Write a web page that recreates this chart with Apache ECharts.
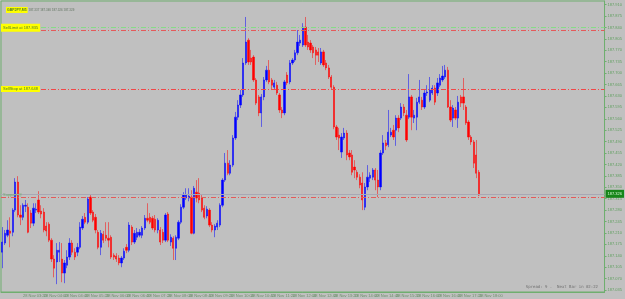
<!DOCTYPE html>
<html>
<head>
<meta charset="utf-8">
<title>GBPJPY,M5</title>
<style>
    html, body { margin: 0; padding: 0; background: #c0c0c0; }
    #chart { width: 625px; height: 299px; }
</style>
<script src="https://cdn.jsdelivr.net/npm/echarts@6/dist/echarts.min.js"></script>
</head>
<body>
<div id="chart"></div>
<script>
// 5 minute bars, oldest first
const opens = [
    187.151, 187.179, 187.203, 187.216, 187.212, 187.280, 187.366, 187.265, 187.258, 187.292,
    187.289, 187.271, 187.240, 187.280, 187.311, 187.277, 187.274, 187.231, 187.237, 187.188,
    187.130, 187.121, 187.151, 187.130, 187.087, 187.111, 187.136, 187.179, 187.151, 187.151,
    187.166, 187.225, 187.258, 187.243, 187.320, 187.274, 187.258, 187.212, 187.166, 187.206,
    187.203, 187.194, 187.197, 187.142, 187.139, 187.133, 187.118, 187.133, 187.166, 187.157,
    187.228, 187.182, 187.197, 187.203, 187.203, 187.225, 187.255, 187.258, 187.255, 187.252,
    187.219, 187.219, 187.212, 187.188, 187.268, 187.182, 187.194, 187.163, 187.194, 187.243,
    187.289, 187.317, 187.317, 187.320, 187.209, 187.335, 187.332, 187.317, 187.286, 187.262,
    187.280, 187.234, 187.219, 187.228, 187.234, 187.295, 187.372, 187.424, 187.393, 187.418,
    187.501, 187.565, 187.602, 187.633, 187.731, 187.801, 187.746, 187.749, 187.679, 187.627,
    187.578, 187.627, 187.679, 187.709, 187.679, 187.657, 187.663, 187.633, 187.587, 187.578,
    187.694, 187.673, 187.731, 187.740, 187.762, 187.792, 187.786, 187.841, 187.795, 187.792,
    187.780, 187.771, 187.765, 187.731, 187.765, 187.731, 187.716, 187.688, 187.657, 187.535,
    187.510, 187.458, 187.501, 187.516, 187.455, 187.449, 187.412, 187.396, 187.381, 187.363,
    187.289, 187.351, 187.378, 187.381, 187.403, 187.372, 187.351, 187.455, 187.486, 187.480,
    187.510, 187.525, 187.525, 187.562, 187.562, 187.596, 187.571, 187.565, 187.627, 187.562,
    187.565, 187.611, 187.617, 187.596, 187.639, 187.617, 187.639, 187.654, 187.639, 187.663,
    187.679, 187.688, 187.709, 187.596, 187.562, 187.587, 187.562, 187.627, 187.627, 187.596,
    187.550, 187.504, 187.489, 187.449, 187.396
];
const closes = [
    187.182, 187.209, 187.219, 187.209, 187.280, 187.366, 187.265, 187.258, 187.295, 187.295,
    187.212, 187.240, 187.286, 187.283, 187.274, 187.268, 187.219, 187.216, 187.188, 187.130,
    187.102, 187.157, 187.157, 187.087, 187.118, 187.136, 187.179, 187.151, 187.136, 187.166,
    187.228, 187.252, 187.243, 187.314, 187.271, 187.249, 187.219, 187.166, 187.209, 187.188,
    187.194, 187.188, 187.136, 187.136, 187.130, 187.118, 187.133, 187.154, 187.157, 187.234,
    187.182, 187.209, 187.212, 187.212, 187.225, 187.255, 187.249, 187.243, 187.225, 187.219,
    187.249, 187.182, 187.188, 187.265, 187.188, 187.197, 187.163, 187.197, 187.243, 187.289,
    187.326, 187.326, 187.323, 187.209, 187.347, 187.317, 187.311, 187.280, 187.258, 187.283,
    187.234, 187.219, 187.231, 187.240, 187.295, 187.372, 187.424, 187.393, 187.418, 187.501,
    187.565, 187.602, 187.633, 187.731, 187.795, 187.734, 187.734, 187.679, 187.608, 187.578,
    187.627, 187.679, 187.709, 187.673, 187.663, 187.670, 187.639, 187.587, 187.578, 187.673,
    187.670, 187.731, 187.740, 187.762, 187.795, 187.801, 187.841, 187.786, 187.780, 187.771,
    187.762, 187.755, 187.755, 187.765, 187.725, 187.716, 187.688, 187.657, 187.535, 187.504,
    187.501, 187.504, 187.516, 187.449, 187.443, 187.396, 187.403, 187.381, 187.357, 187.311,
    187.351, 187.381, 187.387, 187.403, 187.372, 187.351, 187.455, 187.486, 187.477, 187.519,
    187.519, 187.504, 187.562, 187.532, 187.596, 187.578, 187.495, 187.627, 187.565, 187.571,
    187.611, 187.627, 187.596, 187.639, 187.642, 187.648, 187.654, 187.611, 187.670, 187.685,
    187.691, 187.709, 187.596, 187.556, 187.593, 187.562, 187.611, 187.608, 187.608, 187.547,
    187.504, 187.489, 187.424, 187.393, 187.326
];
const lows = [
    187.102, 187.173, 187.197, 187.166, 187.200, 187.274, 187.258, 187.234, 187.249, 187.274,
    187.209, 187.225, 187.231, 187.271, 187.268, 187.255, 187.212, 187.200, 187.182, 187.121,
    187.074, 187.053, 187.121, 187.059, 187.056, 187.102, 187.127, 187.142, 187.127, 187.139,
    187.160, 187.219, 187.237, 187.237, 187.265, 187.243, 187.209, 187.160, 187.142, 187.179,
    187.185, 187.166, 187.130, 187.127, 187.121, 187.111, 187.105, 187.127, 187.148, 187.151,
    187.173, 187.176, 187.188, 187.197, 187.194, 187.219, 187.243, 187.237, 187.219, 187.212,
    187.209, 187.173, 187.179, 187.182, 187.182, 187.170, 187.127, 187.127, 187.188, 187.237,
    187.283, 187.311, 187.307, 187.206, 187.206, 187.304, 187.301, 187.274, 187.252, 187.255,
    187.228, 187.212, 187.197, 187.219, 187.228, 187.289, 187.366, 187.387, 187.387, 187.412,
    187.495, 187.556, 187.593, 187.627, 187.725, 187.725, 187.725, 187.673, 187.602, 187.568,
    187.535, 187.617, 187.673, 187.666, 187.648, 187.648, 187.633, 187.578, 187.562, 187.571,
    187.663, 187.666, 187.725, 187.734, 187.755, 187.783, 187.780, 187.780, 187.771, 187.762,
    187.746, 187.725, 187.734, 187.725, 187.719, 187.709, 187.682, 187.651, 187.528, 187.495,
    187.464, 187.440, 187.495, 187.433, 187.433, 187.387, 187.378, 187.372, 187.347, 187.280,
    187.280, 187.341, 187.366, 187.372, 187.341, 187.320, 187.341, 187.449, 187.464, 187.473,
    187.504, 187.495, 187.477, 187.519, 187.556, 187.568, 187.489, 187.559, 187.525, 187.547,
    187.525, 187.605, 187.587, 187.590, 187.630, 187.611, 187.633, 187.602, 187.630, 187.657,
    187.673, 187.682, 187.593, 187.550, 187.535, 187.556, 187.532, 187.596, 187.587, 187.541,
    187.495, 187.480, 187.409, 187.378, 187.323
];
const highs = [
    187.228, 187.219, 187.249, 187.258, 187.286, 187.378, 187.384, 187.295, 187.301, 187.311,
    187.301, 187.280, 187.301, 187.301, 187.338, 187.295, 187.286, 187.243, 187.243, 187.194,
    187.142, 187.179, 187.182, 187.179, 187.127, 187.157, 187.194, 187.188, 187.163, 187.179,
    187.243, 187.262, 187.271, 187.320, 187.329, 187.280, 187.268, 187.219, 187.219, 187.216,
    187.243, 187.243, 187.203, 187.148, 187.148, 187.142, 187.139, 187.163, 187.176, 187.243,
    187.234, 187.219, 187.225, 187.222, 187.231, 187.265, 187.301, 187.271, 187.262, 187.265,
    187.255, 187.228, 187.222, 187.271, 187.274, 187.206, 187.200, 187.203, 187.249, 187.298,
    187.335, 187.347, 187.347, 187.341, 187.354, 187.372, 187.378, 187.326, 187.295, 187.292,
    187.286, 187.243, 187.237, 187.249, 187.301, 187.378, 187.455, 187.464, 187.433, 187.510,
    187.581, 187.617, 187.648, 187.746, 187.872, 187.807, 187.771, 187.755, 187.685, 187.633,
    187.636, 187.688, 187.722, 187.740, 187.685, 187.679, 187.673, 187.639, 187.596, 187.679,
    187.703, 187.740, 187.746, 187.771, 187.832, 187.817, 187.853, 187.872, 187.817, 187.801,
    187.786, 187.780, 187.777, 187.777, 187.771, 187.740, 187.725, 187.694, 187.663, 187.541,
    187.532, 187.516, 187.532, 187.525, 187.464, 187.464, 187.433, 187.403, 187.390, 187.396,
    187.363, 187.418, 187.396, 187.409, 187.409, 187.403, 187.464, 187.510, 187.495, 187.587,
    187.532, 187.541, 187.571, 187.571, 187.608, 187.605, 187.587, 187.697, 187.633, 187.587,
    187.624, 187.679, 187.627, 187.648, 187.663, 187.688, 187.663, 187.663, 187.685, 187.697,
    187.722, 187.725, 187.719, 187.617, 187.602, 187.596, 187.630, 187.633, 187.685, 187.602,
    187.556, 187.510, 187.495, 187.495, 187.403
];

// price scale on the right
const priceTicks = [
    187.035, 187.070, 187.105, 187.140, 187.175, 187.210, 187.245, 187.280, 187.315, 187.350,
    187.385, 187.420, 187.455, 187.490, 187.525, 187.560, 187.595, 187.630, 187.665, 187.700,
    187.735, 187.770, 187.805, 187.840, 187.875, 187.910
];
// one time label every 8 bars
const timeLabels = [
    '28 Nov 2023', '28 Nov 03:20', '28 Nov 04:00', '28 Nov 04:40', '28 Nov 05:20', '28 Nov 06:00',
    '28 Nov 06:40', '28 Nov 07:20', '28 Nov 08:00', '28 Nov 08:40', '28 Nov 09:20', '28 Nov 10:00',
    '28 Nov 10:40', '28 Nov 11:20', '28 Nov 12:00', '28 Nov 12:40', '28 Nov 13:20', '28 Nov 14:00',
    '28 Nov 14:40', '28 Nov 15:20', '28 Nov 16:00', '28 Nov 16:40', '28 Nov 17:20', '28 Nov 18:00'
];

// horizontal levels
const levelTopGreen = 187.838;
const levelTopRed = 187.832;
const levelMid = 187.648;
const levelLow = 187.317;
const bid = 187.326;

const slots = 233;   // bars that fit in the window, incl. the empty shift on the right
const categories = [];
for (let i = 0; i < slots; i++) categories.push(String(i));

const ohlc = opens.map((o, i) => [o, closes[i], lows[i], highs[i]]);

const green = '#6fae6f';
const dashDot = [5, 2, 1, 2];

const chart = echarts.init(document.getElementById('chart'));
chart.setOption({
    animation: false,
    backgroundColor: '#c0c0c0',
    title: [{
        left: 1, top: 2,
        text: '{a|GBPJPY,M5}{b| 187.337 187.340 187.326 187.329}',
        textStyle: {
            rich: {
                a: { fontSize: 3.5, color: '#4d7a2a', backgroundColor: '#ffff00', padding: [1, 1] },
                b: { fontSize: 3, color: '#7d8a7d' }
            }
        }
    }, {
        right: 22, bottom: 5,
        text: 'Spread: 9 .  Next Bar in 02:22',
        textStyle: { fontSize: 4, color: '#707070', fontWeight: 'normal', fontFamily: 'DejaVu Sans Mono' }
    }],
    grid: {
        left: 1, right: 15, top: 1, bottom: 7,
        show: true, borderColor: green, borderWidth: 1
    },
    xAxis: {
        type: 'category',
        data: categories,
        boundaryGap: true,
        axisLine: { lineStyle: { color: green } },
        axisTick: { interval: 7, length: 2, lineStyle: { color: green } },
        axisLabel: {
            interval: 7, fontSize: 4, color: '#6a8f6a', align: 'left', margin: 2,
            formatter: (v, idx) => timeLabels[idx / 8] || ''
        },
        splitLine: { show: false }
    },
    yAxis: {
        type: 'value',
        position: 'right',
        min: 187.029, max: 187.921,
        scale: true,
        axisLine: { show: true, lineStyle: { color: green } },
        axisTick: { show: true, length: 2, customValues: priceTicks, lineStyle: { color: green } },
        axisLabel: {
            fontSize: 4, color: '#5f9f5f', margin: 3,
            customValues: priceTicks,
            formatter: v => v.toFixed(3)
        },
        splitLine: { show: false }
    },
    series: [{
        type: 'candlestick',
        data: ohlc,
        barWidth: 1.8,
        itemStyle: {
            color: '#0000ff', color0: '#ff0000',
            borderColor: 'rgba(0,0,255,0.5)', borderColor0: 'rgba(255,0,0,0.5)',
            borderWidth: 1
        },
        markLine: {
            silent: true,
            symbol: 'none',
            data: [
                { yAxis: levelTopGreen, lineStyle: { color: '#86dc86', type: dashDot, width: 1 }, label: { show: false } },
                {
                    yAxis: levelTopRed, lineStyle: { color: '#e45a5a', type: dashDot, width: 1 },
                    label: {
                        show: true, position: 'insideStartTop', distance: [0, -1],
                        formatter: 'SellLimit at 187.835', fontSize: 4, color: '#4d7a2a',
                        backgroundColor: '#ffff00', padding: [2, 2]
                    }
                },
                {
                    yAxis: levelMid, lineStyle: { color: '#f04848', type: dashDot, width: 1 },
                    label: {
                        show: true, position: 'insideStartTop', distance: [0, -2.5],
                        formatter: 'SellStop at 187.648', fontSize: 4, color: '#4d7a2a',
                        backgroundColor: '#ffff00', padding: [1, 2]
                    }
                },
                {
                    yAxis: bid, lineStyle: { color: '#a8a8b4', type: 'solid', width: 1 },
                    label: {
                        show: true, position: 'end', distance: 1,
                        formatter: bid.toFixed(3), fontSize: 4, color: '#d8f8d8',
                        backgroundColor: '#17861a', padding: [2, 2]
                    }
                },
                {
                    yAxis: levelLow, lineStyle: { color: '#e45a5a', type: dashDot, width: 1 },
                    label: {
                        show: true, position: 'insideStartTop', distance: [2, 0],
                        formatter: 'Support @', fontSize: 4, color: '#6fae6f'
                    }
                }
            ]
        }
    }]
});
</script>
</body>
</html>
